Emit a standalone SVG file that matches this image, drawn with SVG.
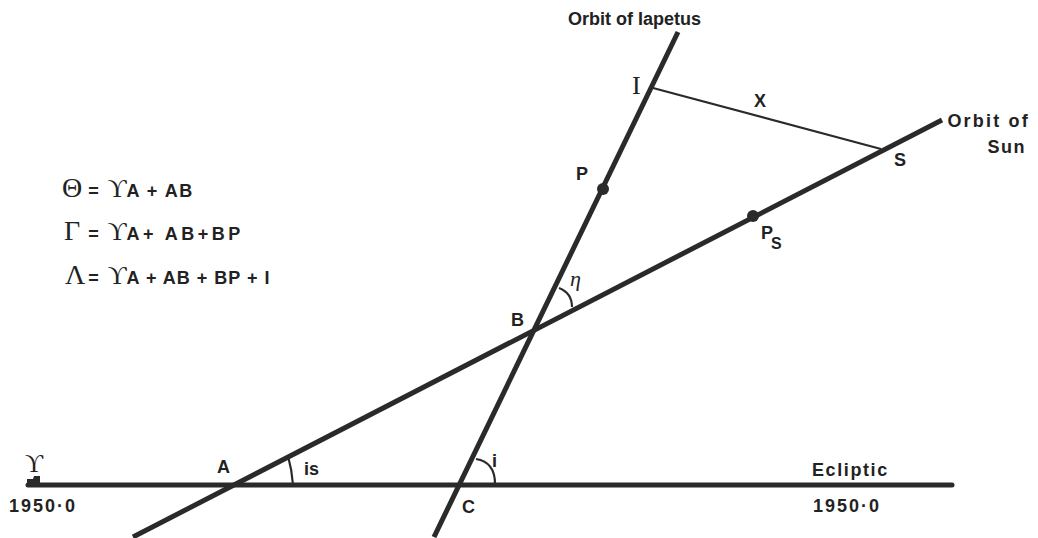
<svg xmlns="http://www.w3.org/2000/svg" width="1038" height="538" viewBox="0 0 1038 538">
<style>
.ln{stroke:#2a2a2a;fill:none;stroke-width:5}
.th{stroke:#2a2a2a;fill:none;stroke-width:2.2}
.t{font-family:"Liberation Sans",Arial,sans-serif;font-weight:bold;fill:#222;font-size:18px}
.s{font-family:"Liberation Serif","DejaVu Serif",serif;fill:#222}
.dot{fill:#2a2a2a}
</style>
<rect width="1038" height="538" fill="#fff"/>
<g id="connectors">
<path class="ln" d="M28,485 L952,485" stroke-linecap="round"/>
<path class="ln" d="M133,537 L942,120"/>
<path class="ln" d="M434,537 L678,32"/>
<path class="th" d="M653,88 L881,149" stroke-width="3"/>
<path class="th" d="M293,485 Q292,470 288,456"/>
<path class="th" d="M476,459 Q495,462 495,484"/>
<path class="th" d="M559,288 Q572,293 572,307"/>
</g>
<g id="formulas">
<text x="62" y="197"><tspan class="s" font-size="28">Θ</tspan><tspan class="t" font-size="20" dx="6">=</tspan><tspan class="s" font-size="26" dx="9">ϒ</tspan><tspan class="t" font-size="20" letter-spacing="1.5">A + AB</tspan></text>
<text x="64" y="240"><tspan class="s" font-size="28">Γ</tspan><tspan class="t" font-size="20" dx="8">=</tspan><tspan class="s" font-size="26" dx="9">ϒ</tspan><tspan class="t" font-size="20" letter-spacing="3.5">A+ AB+BP</tspan></text>
<text x="65" y="284"><tspan class="s" font-size="28">Λ</tspan><tspan class="t" font-size="20" dx="3">=</tspan><tspan class="s" font-size="26" dx="9">ϒ</tspan><tspan class="t" font-size="19.5" letter-spacing="1">A + AB + BP + I</tspan></text>
</g>
<g id="node-aries">
<text class="s" x="25" y="472" font-size="25">ϒ</text>
<path class="dot" d="M27,484 L27,479 L33,479 L34,476 L40,476 L40,484 Z"/>
<text class="t" x="9" y="512" font-size="20" letter-spacing="2">1950·0</text>
</g>
<g id="node-A"><text class="t" x="217" y="473">A</text></g>
<g id="node-is"><text class="t" x="304" y="475" font-size="19">is</text></g>
<g id="node-C"><text class="t" x="462" y="513" font-size="20">C</text></g>
<g id="node-i"><text class="t" x="492" y="467" font-size="19">i</text></g>
<g id="node-B"><text class="t" x="511" y="326">B</text></g>
<g id="node-eta"><text class="s" x="570" y="286" font-size="22" font-style="italic">η</text></g>
<g id="node-P">
<circle class="dot" cx="603" cy="189" r="6"/>
<text class="t" x="576" y="180">P</text>
</g>
<g id="node-Ps">
<circle class="dot" cx="753" cy="216" r="6"/>
<text class="t" x="761" y="239">P<tspan font-size="16" dx="-2" dy="10">S</tspan></text>
</g>
<g id="node-I"><text class="s" x="632" y="94" font-size="26">I</text></g>
<g id="node-X"><text class="t" x="754" y="107">X</text></g>
<g id="node-S"><text class="t" x="894" y="166">S</text></g>
<g id="node-orbit-iapetus"><text class="t" x="568" y="25">Orbit of  Iapetus</text></g>
<g id="node-orbit-sun">
<text class="t" x="1030" y="127" text-anchor="end" font-size="21" letter-spacing="2.2">Orbit of</text>
<text class="t" x="1026" y="153" text-anchor="end" font-size="21" letter-spacing="1.5">Sun</text>
</g>
<g id="node-ecliptic">
<text class="t" x="812" y="476" font-size="19" letter-spacing="1.6">Ecliptic</text>
<text class="t" x="813" y="512" font-size="20" letter-spacing="2">1950·0</text>
</g>
</svg>
